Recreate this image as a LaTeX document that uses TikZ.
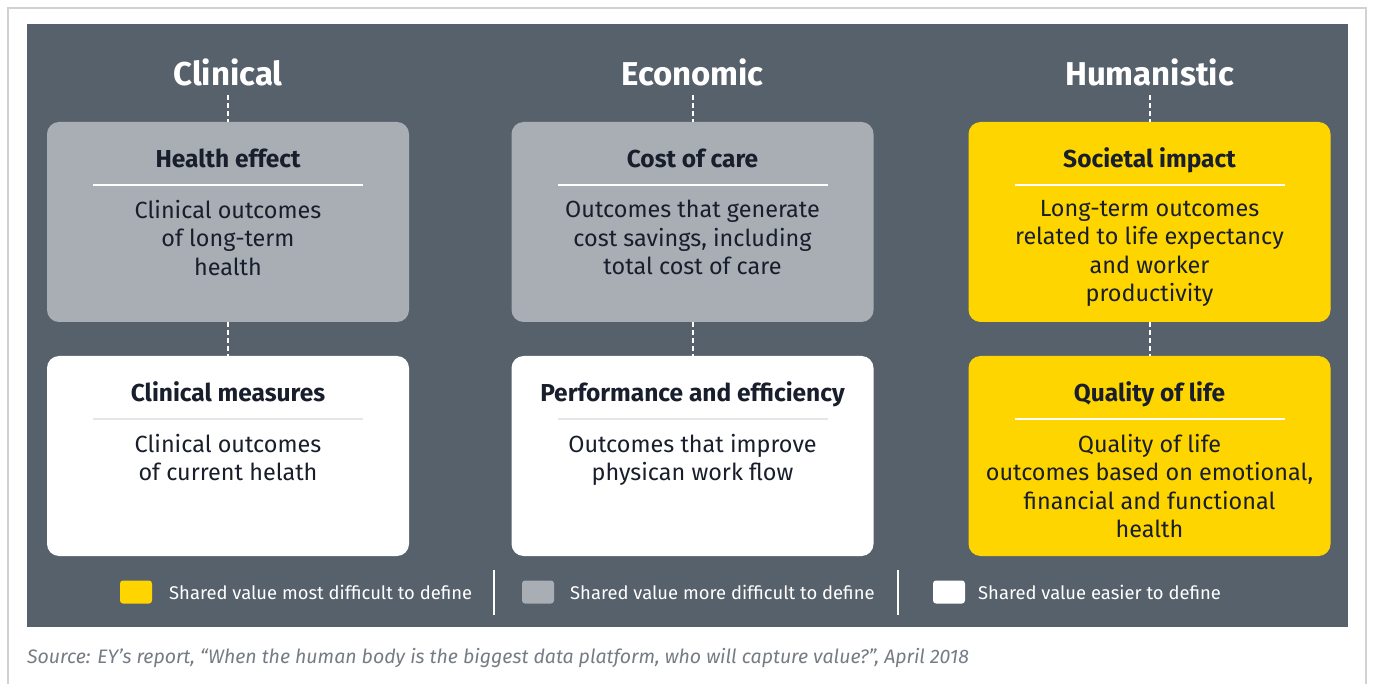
\documentclass[tikz,border=0pt]{standalone}
\usepackage{fontspec}
\setmainfont{Fira Sans}
\usetikzlibrary{positioning,calc}

\definecolor{slate}{RGB}{87,97,108}
\definecolor{cardgrey}{RGB}{168,174,180}
\definecolor{eyyellow}{RGB}{255,213,0}
\definecolor{ink}{RGB}{24,30,44}
\definecolor{frame}{RGB}{208,211,214}
\definecolor{srcgrey}{RGB}{118,124,132}
\definecolor{softrule}{RGB}{228,230,233}

\begin{document}
\begin{tikzpicture}[x=1pt,y=-1pt,
    card/.style={rounded corners=12pt, minimum width=362pt, minimum height=200pt, inner sep=0pt},
    greycard/.style={card, fill=cardgrey},
    whitecard/.style={card, fill=white},
    yellowcard/.style={card, fill=eyyellow},
    col/.style={text=white, font=\fontsize{33}{38}\selectfont\bfseries, inner sep=9pt},
    head/.style={text=ink, font=\fontsize{24.5}{28}\selectfont\bfseries, anchor=base, inner sep=0pt},
    body/.style={text=ink, font=\fontsize{23.4}{28.5}\selectfont, align=center, anchor=north, inner sep=0pt},
    link/.style={white, line width=2pt, dash pattern=on 5pt off 3pt},
    rule/.style={line width=2pt},
    key/.style={rounded corners=3pt, minimum width=32pt, minimum height=23pt, inner sep=0pt},
    keytext/.style={text=white, font=\fontsize{18.4}{21}\selectfont, anchor=base west, inner sep=0pt}
]
\useasboundingbox (0,0) rectangle (1373,684);
\draw[frame, line width=1.2pt] (8,700) -- (8,8) -- (1366,8) -- (1366,700);
\fill[slate] (27,24) rectangle (1348,627);

% column titles
\node[col] (clin) at (228,72) {Clinical};
\node[col] (econ) at (692.5,72) {Economic};
\node[col] (human) at (1149.5,72) {Humanistic};

% cards
\node[greycard] (health) at (228,222) {};
\node[whitecard] (measures) at (228,456) {};
\node[greycard] (cost) at (692.5,222) {};
\node[whitecard] (perf) at (692.5,456) {};
\node[yellowcard] (society) at (1149.5,222) {};
\node[yellowcard] (quality) at (1149.5,456) {};

% dotted links
\draw[link] (clin.south) -- (health.north);
\draw[link] (health.south) -- (measures.north);
\draw[link] (econ.south) -- (cost.north);
\draw[link] (cost.south) -- (perf.north);
\draw[link] (human.south) -- (society.north);
\draw[link] (society.south) -- (quality.north);

% card contents
\node[head] (healthh) at ($(health.north)+(0,46)$) {Health effect};
\draw[rule, white] ($(health.north)+(-135,63)$) -- ($(health.north)+(135,63)$);
\node[body] (healthb) at ($(health.north)+(0,78)$) {Clinical outcomes\\of long-term\\health};

\node[head] (measuresh) at ($(measures.north)+(0,46)$) {Clinical measures};
\draw[rule, softrule] ($(measures.north)+(-135,63)$) -- ($(measures.north)+(135,63)$);
\node[body] (measuresb) at ($(measures.north)+(0,78)$) {Clinical outcomes\\of current helath};

\node[head] (costh) at ($(cost.north)+(0,46)$) {Cost of care};
\draw[rule, white] ($(cost.north)+(-135,63)$) -- ($(cost.north)+(135,63)$);
\node[body] (costb) at ($(cost.north)+(0,78)$) {Outcomes that generate\\cost savings, including\\total cost of care};

\node[head] (perfh) at ($(perf.north)+(0,46)$) {Performance and efficiency};
\draw[rule, softrule] ($(perf.north)+(-135,63)$) -- ($(perf.north)+(135,63)$);
\node[body] (perfb) at ($(perf.north)+(0,78)$) {Outcomes that improve\\physican work flow};

\node[head] (societyh) at ($(society.north)+(0,46)$) {Societal impact};
\draw[rule, white] ($(society.north)+(-135,63)$) -- ($(society.north)+(135,63)$);
\node[body] (societyb) at ($(society.north)+(0,78)$) {Long-term outcomes\\related to life expectancy\\and worker\\productivity};

\node[head] (qualityh) at ($(quality.north)+(0,46)$) {Quality of life};
\draw[rule, white] ($(quality.north)+(-135,63)$) -- ($(quality.north)+(135,63)$);
\node[body] (qualityb) at ($(quality.north)+(0,78)$) {Quality of life\\outcomes based on emotional,\\financial and functional\\health};

% legend
\node[key, fill=eyyellow] (kmost) at (136,592) {};
\node[keytext] (tmost) at (169,599) {Shared value most difficult to define};
\draw[white, line width=2pt] (494,570) -- (494,615);
\node[key, fill=cardgrey] (kmore) at (538,592) {};
\node[keytext] (tmore) at (570,599) {Shared value more difficult to define};
\draw[white, line width=2pt] (898,570) -- (898,615);
\node[key, fill=white] (keasy) at (949,592) {};
\node[keytext] (teasy) at (978,599) {Shared value easier to define};

% source
\node[anchor=base west, inner sep=0pt, text=srcgrey, font=\fontsize{19.5}{22}\selectfont\itshape] (src) at (27,663)
  {Source: EY’s report, “When the human body is the biggest data platform, who will capture value?”, April 2018};
\end{tikzpicture}
\end{document}
